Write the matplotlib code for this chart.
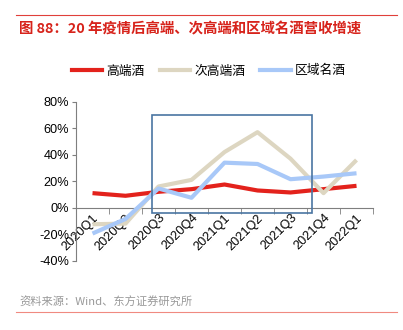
import matplotlib
matplotlib.use('Agg')
import matplotlib.pyplot as plt
from matplotlib.patches import Rectangle
from matplotlib.lines import Line2D

plt.rcParams['font.family'] = ['Liberation Sans', 'Noto Sans CJK SC', 'DejaVu Sans']

quarters = ['2020Q1', '2020Q2', '2020Q3', '2020Q4', '2021Q1', '2021Q2', '2021Q3', '2021Q4', '2022Q1']
high_end = [11, 9, 12, 14, 17.5, 13, 11.5, 14, 16.5]
sub_high = [-12.5, -12, 16, 21, 42, 57, 37, 11, 36]
regional = [-19.5, -8.5, 14.5, 7.5, 34, 33, 21.5, 23.5, 26]
series_names = ['高端酒', '次高端酒', '区域名酒']
colors = ['#e3221c', '#ddd6c1', '#a8c8f8']
cjk = ['Noto Sans CJK SC', 'DejaVu Sans']

fig = plt.figure(figsize=(4.03, 3.3), dpi=100)
ax = fig.add_axes([0.1886, 0.21, 0.737, 0.4818])

x = list(range(len(quarters)))
for vals, c, name in zip([high_end, sub_high, regional], colors, series_names):
    ax.plot(x, vals, color=c, lw=3, label=name, solid_capstyle='butt', zorder=3)

ax.set_xlim(-0.5, len(quarters) - 0.5)
ax.set_ylim(-40, 80)
ax.set_yticks(range(-40, 81, 20))
ax.set_yticklabels([f'{v}%' for v in range(-40, 81, 20)], fontsize=9.2)

ax.spines['top'].set_visible(False)
ax.spines['right'].set_visible(False)
ax.spines['bottom'].set_position(('data', 0))
ax.spines['bottom'].set_color('#7f7f7f')
ax.spines['left'].set_color('#7f7f7f')
ax.spines['bottom'].set_linewidth(0.8)
ax.spines['left'].set_linewidth(0.8)

ax.set_xticks(x)
ax.set_xticklabels(quarters, rotation=45, ha='right', va='top', rotation_mode='anchor', fontsize=9.2)
ax.set_xticks([i - 0.5 for i in range(len(quarters) + 1)], minor=True)
ax.tick_params(axis='x', which='major', length=0, pad=3)
ax.tick_params(axis='x', which='minor', length=4, color='#7f7f7f', direction='out')
ax.tick_params(axis='y', length=3, color='#7f7f7f', pad=2)

# highlight box
box = Rectangle((1.81, -4), 6.66 - 1.81, 70.2 + 4, fill=False, edgecolor='#4a75a2', lw=1.2, clip_on=False, zorder=4)
ax.add_patch(box)

# legend
handles = [Line2D([], [], color=c, lw=3) for c in colors]
fig.legend(handles, series_names, loc='center', bbox_to_anchor=(0.518, 1 - 71 / 330), ncol=3, frameon=False,
           prop={'family': cjk, 'size': 9.2}, handlelength=2.4, handletextpad=0.3, columnspacing=1.2)

# title and source
fig.add_artist(Line2D([16 / 403, 397 / 403], [1 - 15 / 330] * 2, color='#e0403a', lw=0.8))
fig.text(19 / 403, 1 - 29 / 330, '图 88：20 年疫情后高端、次高端和区域名酒营收增速', color='#d7231b',
         fontsize=10.4, fontweight='bold', family=cjk, ha='left', va='center')
fig.text(19 / 403, 1 - 302 / 330, '资料来源：Wind、东方证券研究所', color='#999999', fontsize=8.1,
         family=cjk, ha='left', va='center')
fig.add_artist(Line2D([16 / 403, 397 / 403], [1 - 312 / 330] * 2, color='#f08a80', lw=0.8))

fig.savefig('out.png', dpi=100)
